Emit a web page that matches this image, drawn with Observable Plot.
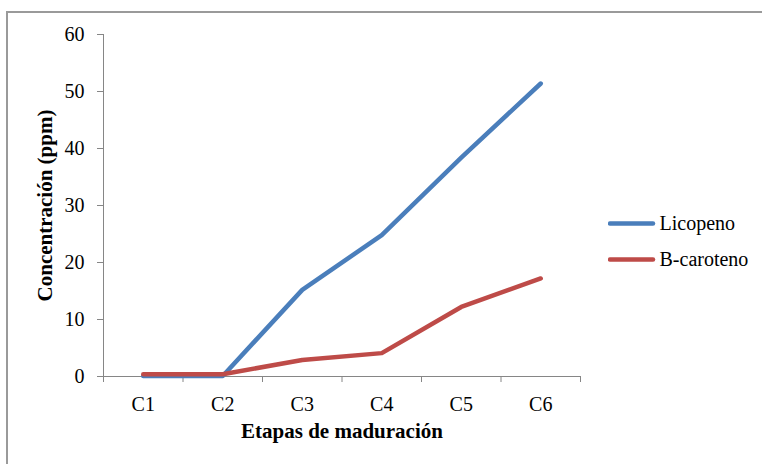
<!DOCTYPE html>
<html>
<head>
<meta charset="utf-8">
<script src="https://cdn.jsdelivr.net/npm/d3@7"></script>
<script src="https://cdn.jsdelivr.net/npm/@observablehq/plot@0.6"></script>
<style>
  html, body { margin: 0; padding: 0; background: #fff; }
  #wrap { position: relative; width: 762px; height: 464px; overflow: hidden; }
  #frame { position: absolute; left: 6px; top: 11px; width: 800px; height: 500px; border-top: 2px solid #9a9a9a; border-left: 2px solid #9a9a9a; box-sizing: border-box; pointer-events: none; }
  #chart svg { position: absolute; left: 0; top: 0; }
  #legend svg { position: absolute; left: 608px; top: 205px; }
</style>
</head>
<body>
<div id="wrap">
  <div id="frame"></div>
  <div id="chart"></div>
  <div id="legend"></div>
</div>
<script>
const categories = ["C1", "C2", "C3", "C4", "C5", "C6"];
const licopeno = [0.1, 0.1, 15.2, 24.8, 38.4, 51.4];
const bcaroteno = [0.4, 0.4, 2.9, 4.1, 12.2, 17.2];
const seriesNames = ["Licopeno", "B-caroteno"];
const seriesColors = ["#4A7EBB", "#BE4B48"];
const yTicks = [0, 10, 20, 30, 40, 50, 60];

const rows = [];
[licopeno, bcaroteno].forEach((vals, s) => {
  vals.forEach((v, i) => rows.push({series: seriesNames[s], idx: i + 0.5, cat: categories[i], value: v}));
});

const boundaries = d3.range(categories.length + 1);
const centers = categories.map((c, i) => i + 0.5);
const serif = "'Liberation Serif', 'Times New Roman', serif";

const chart = Plot.plot({
  width: 762,
  height: 464,
  marginLeft: 103,
  marginRight: 182,
  marginTop: 34,
  marginBottom: 88,
  style: {fontFamily: serif, background: "transparent", color: "#000"},
  x: {domain: [0, categories.length]},
  y: {domain: [0, 60]},
  color: {domain: seriesNames, range: seriesColors},
  marks: [
    Plot.axisY({ticks: yTicks, tickSize: 6, tickPadding: 13, fontSize: 20, stroke: "#868686", strokeOpacity: 1, label: null, tickFormat: d => d, fill: "#000"}),
    Plot.axisX({ticks: boundaries, tickSize: 6, tickFormat: () => "", stroke: "#868686", strokeOpacity: 1, label: null}),
    Plot.axisX({ticks: centers, tickSize: 0, tickPadding: 20, tickFormat: d => categories[Math.round(d - 0.5)], fontSize: 20, fill: "#000", label: null}),
    Plot.ruleX([0], {stroke: "#868686", strokeWidth: 1}),
    Plot.ruleY([0], {stroke: "#868686", strokeWidth: 1}),
    Plot.line(rows, {x: "idx", y: "value", z: "series", stroke: "series", strokeWidth: 4.5, strokeLinejoin: "round", strokeLinecap: "round"}),
    Plot.text(["Concentración (ppm)"], {frameAnchor: "left", textAnchor: "middle", rotate: -90, dx: -58, dy: 0, fontSize: 21, fontWeight: "bold", fill: "#000"}),
    Plot.text(["Etapas de maduración"], {frameAnchor: "bottom", dy: 61, fontSize: 21, fontWeight: "bold", fill: "#000"})
  ]
});
document.getElementById("chart").appendChild(chart);

const legendPlot = Plot.plot({
  width: 152,
  height: 72,
  margin: 0,
  axis: null,
  style: {fontFamily: serif, background: "transparent", color: "#000"},
  x: {domain: [0, 1], range: [2, 45]},
  y: {type: "point", domain: seriesNames, range: [18, 54], padding: 0},
  color: {domain: seriesNames, range: seriesColors},
  marks: [
    Plot.ruleY(seriesNames, {y: d => d, x1: 0, x2: 1, stroke: d => d, strokeWidth: 4.5, strokeLinecap: "round"}),
    Plot.text(seriesNames, {y: d => d, x: 1, dx: 6, textAnchor: "start", fontSize: 20, fill: "#000"})
  ]
});
document.getElementById("legend").appendChild(legendPlot);
</script>
</body>
</html>
